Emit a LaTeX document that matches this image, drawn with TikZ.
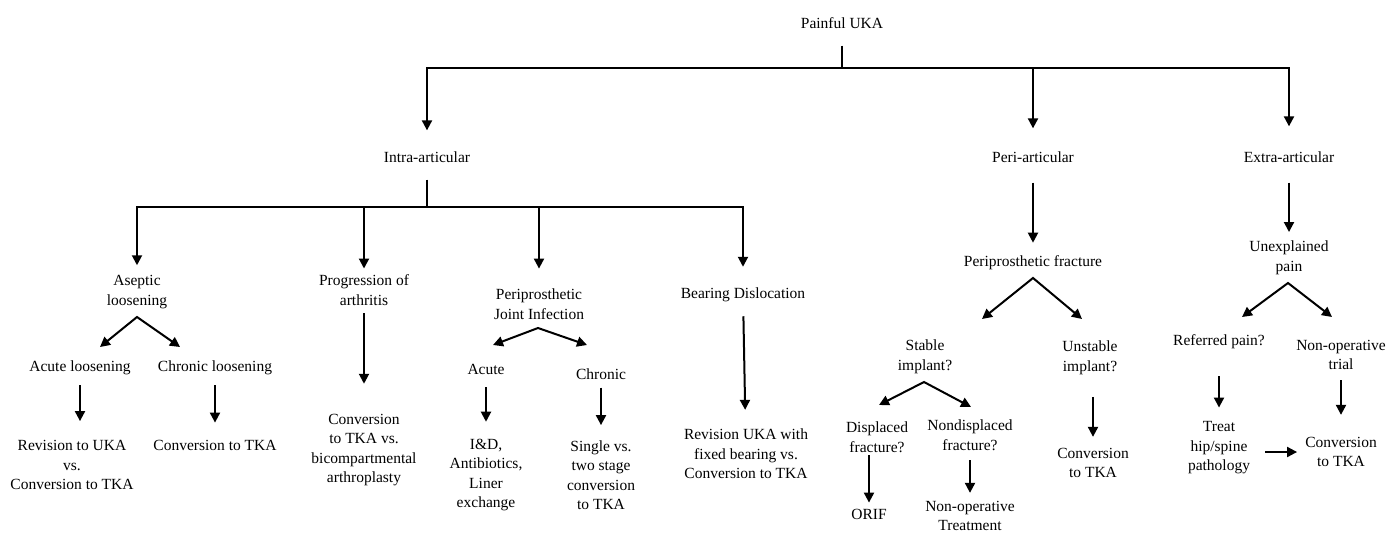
\documentclass[tikz,border=0pt]{standalone}
\usepackage{fontspec}
\setmainfont{Liberation Serif}
\usetikzlibrary{arrows.meta}

\tikzset{
  lbl/.style={font=\fontsize{15.5}{19.5}\selectfont, align=center, inner sep=0pt},
  ln/.style={line width=2pt},
  arr/.style={ln, -{Triangle[width=10pt,length=10pt]}},
  fork/.style={ln, {Triangle[width=10pt,length=10pt]}-{Triangle[width=10pt,length=10pt]}},
}

\begin{document}
\begin{tikzpicture}[x=1pt,y=-1pt]
    \useasboundingbox (0,0) rectangle (1389,533);

    % Root and main categories
    \node[lbl] (uka) at (842,23) {Painful UKA};
    \node[lbl] (intra) at (427,157) {Intra-articular};
    \node[lbl] (peri) at (1033,157) {Peri-articular};
    \node[lbl] (extra) at (1289,157) {Extra-articular};

    \coordinate (j0) at (842,68);
    \draw[ln, shorten <=17pt] (uka) -- (j0);
    \draw[arr, shorten >=21pt] (j0) -| (intra);
    \draw[arr, shorten >=23pt] (j0) -| (peri);
    \draw[arr, shorten >=25pt] (j0) -| (extra);

    % Intra-articular causes
    \node[lbl] (aseptic) at (137,292) {Aseptic\\loosening};
    \node[lbl] (progr) at (364,290) {Progression of\\arthritis};
    \node[lbl] (pji) at (539,304) {Periprosthetic\\Joint Infection};
    \node[lbl] (bearing) at (743,295) {Bearing Dislocation};

    \coordinate (j1) at (427,207);
    \draw[ln, shorten <=17pt] (intra) -- (j1);
    \draw[arr, shorten >=10pt] (j1) -| (aseptic);
    \draw[arr, shorten >=6pt] (j1) -| (progr);
    \draw[arr, shorten >=20pt] (j1) -| (pji);
    \draw[arr, shorten >=21pt] (j1) -| (bearing);

    % Aseptic loosening
    \node[lbl] (acuteL) at (80,368) {Acute loosening};
    \node[lbl] (chronicL) at (215,368) {Chronic loosening};
    \node[lbl] (revUKA) at (72,465) {Revision to UKA\\vs.\\Conversion to TKA};
    \node[lbl] (convA) at (215,445) {Conversion to TKA};
    \coordinate (aseF) at (137,317);
    \coordinate (aseL) at (100,347);
    \coordinate (aseR) at (180,347);
    \draw[fork] (aseL) -- (aseF) -- (aseR);
    \draw[arr, shorten <=10pt, shorten >=19pt] (acuteL.south) -- (acuteL.south |- revUKA.north);
    \draw[arr, shorten <=10pt, shorten >=17pt] (chronicL) -- (convA);

    % Progression of arthritis
    \node[lbl] (convB) at (364,450) {Conversion\\to TKA vs.\\bicompartmental\\arthroplasty};
    \draw[arr, shorten <=8pt, shorten >=30pt] (progr) -- (convB);

    % Periprosthetic joint infection
    \node[lbl] (acute) at (486,369) {Acute};
    \node[lbl] (chronic) at (601,374) {Chronic};
    \node[lbl] (ind) at (486,475) {I\&D,\\Antibiotics,\\Liner\\exchange};
    \node[lbl] (single) at (601,475) {Single vs.\\two stage\\conversion\\to TKA};
    \coordinate (pjiF) at (538,328);
    \coordinate (pjiL) at (493,345);
    \coordinate (pjiR) at (587,345);
    \draw[fork] (pjiL) -- (pjiF) -- (pjiR);
    \draw[arr, shorten <=13pt, shorten >=17pt] (acute) -- (ind);
    \draw[arr, shorten <=8pt, shorten >=15pt] (chronic) -- (single);

    % Bearing dislocation
    \node[lbl] (revfixed) at (746,454) {Revision UKA with\\fixed bearing vs.\\Conversion to TKA};
    \draw[arr, shorten <=14pt, shorten >=19pt] (bearing) -- (revfixed);

    % Peri-articular
    \node[lbl] (ppfx) at (1033,263) {Periprosthetic fracture};
    \draw[arr, shorten <=20pt, shorten >=13pt] (peri) -- (ppfx);
    \node[lbl] (stable) at (925,357) {Stable\\implant?};
    \node[lbl] (unstable) at (1090,358) {Unstable\\implant?};
    \coordinate (fxF) at (1033,278);
    \coordinate (fxL) at (982,319);
    \coordinate (fxR) at (1082,319);
    \draw[fork] (fxL) -- (fxF) -- (fxR);

    \node[lbl] (displaced) at (877,437) {Displaced\\fracture?};
    \node[lbl] (nondisp) at (970,435) {Nondisplaced\\fracture?};
    \coordinate (stbF) at (924,382);
    \coordinate (stbL) at (879,405);
    \coordinate (stbR) at (971,407);
    \draw[fork] (stbL) -- (stbF) -- (stbR);
    \node[lbl] (orif) at (869,514) {ORIF};
    \node[lbl] (nonopT) at (970,516) {Non-operative\\Treatment};
    \draw[arr, shorten <=3pt, shorten >=6pt] (orif |- displaced.south) -- (orif.north);
    \draw[arr, shorten <=10pt, shorten >=8pt] (nondisp) -- (nonopT);

    \node[lbl] (convC) at (1093,463) {Conversion\\to TKA};
    \draw[arr, shorten <=22pt, shorten >=11pt] (convC |- unstable.south) -- (convC.north);

    % Extra-articular
    \node[lbl] (unexpl) at (1289,258) {Unexplained\\pain};
    \draw[arr, shorten <=20pt, shorten >=9pt] (extra) -- (unexpl);
    \node[lbl] (referred) at (1219,342) {Referred pain?};
    \node[lbl] (nonopTrial) at (1341,355) {Non-operative\\trial};
    \coordinate (unxF) at (1288,283);
    \coordinate (unxL) at (1242,317);
    \coordinate (unxR) at (1332,317);
    \draw[fork] (unxL) -- (unxF) -- (unxR);

    \node[lbl] (treat) at (1219,448) {Treat\\hip/spine\\pathology};
    \node[lbl] (convD) at (1341,452) {Conversion\\to TKA};
    \draw[arr, shorten <=27pt, shorten >=14pt] (referred) -- (treat);
    \draw[arr, shorten <=10pt, shorten >=22pt] (nonopTrial) -- (convD);
    \draw[arr, shorten <=15pt, shorten >=8pt] (treat.east |- convD.west) -- (convD.west);

\end{tikzpicture}
\end{document}
